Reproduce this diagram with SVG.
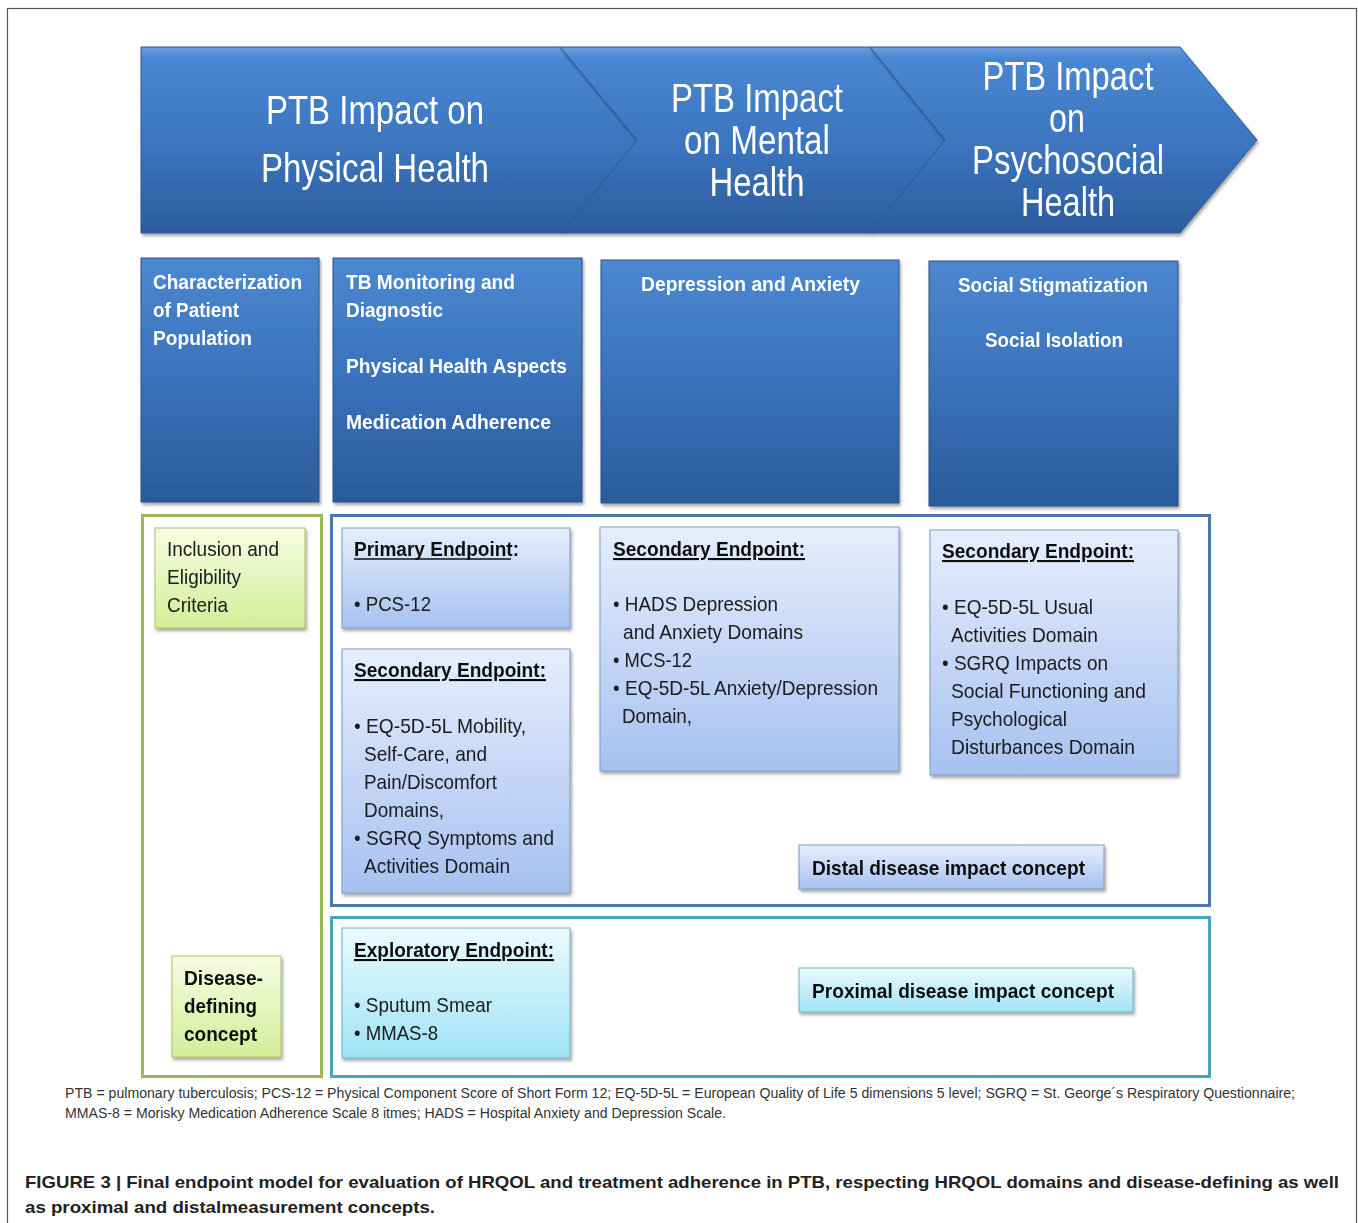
<svg xmlns="http://www.w3.org/2000/svg" width="1358" height="1223" viewBox="0 0 1358 1223">
<defs>
<linearGradient id="gChev" x1="0" y1="0" x2="0" y2="1">
<stop offset="0" stop-color="#6a9fe0"/>
<stop offset="0.06" stop-color="#4a87d2"/>
<stop offset="0.55" stop-color="#3b74bd"/>
<stop offset="1" stop-color="#2b5c9d"/>
</linearGradient>
<linearGradient id="gDark" x1="0" y1="0" x2="0" y2="1">
<stop offset="0" stop-color="#4c88d1"/>
<stop offset="0.5" stop-color="#3a72bb"/>
<stop offset="1" stop-color="#2a5b9b"/>
</linearGradient>
<linearGradient id="gBlue" x1="0" y1="0" x2="0" y2="1">
<stop offset="0" stop-color="#e6eefc"/>
<stop offset="1" stop-color="#a6c1f0"/>
</linearGradient>
<linearGradient id="gCyan" x1="0" y1="0" x2="0" y2="1">
<stop offset="0" stop-color="#ebfbfe"/>
<stop offset="1" stop-color="#9fe3f5"/>
</linearGradient>
<linearGradient id="gGreen" x1="0" y1="0" x2="0" y2="1">
<stop offset="0" stop-color="#f6fce3"/>
<stop offset="1" stop-color="#d4ed98"/>
</linearGradient>
<filter id="sh" x="-10%" y="-10%" width="125%" height="125%">
<feDropShadow dx="1.5" dy="2.5" stdDeviation="1.8" flood-color="#000" flood-opacity="0.35"/>
</filter>
</defs>
<style>
.chevT{font-family:"Liberation Sans",Arial,sans-serif;font-size:41px;fill:#fff;text-anchor:middle}
.hd{font-family:"Liberation Sans",Arial,sans-serif;font-size:21px;font-weight:bold;fill:#fff}
.tx{font-family:"Liberation Sans",Arial,sans-serif;font-size:21px;fill:#1a1a1a}
.bd{font-family:"Liberation Sans",Arial,sans-serif;font-size:21px;font-weight:bold;fill:#111}
.ul{text-decoration:underline}
.uline{stroke:#111;stroke-width:1.5}
.dark{fill:url(#gDark);stroke:#2b5282;stroke-width:1}
.blue{fill:url(#gBlue);stroke:#7a98c8;stroke-width:1}
.cyan{fill:url(#gCyan);stroke:#6ab3c7;stroke-width:1}
.green{fill:url(#gGreen);stroke:#a9c26e;stroke-width:1}
.fn{font-family:"Liberation Sans",Arial,sans-serif;font-size:14px;fill:#333}
.cap{font-family:"Liberation Sans",Arial,sans-serif;font-size:17px;font-weight:bold;fill:#222}
</style>
<rect x="0" y="0" width="1358" height="1223" fill="#fff"/>
<rect x="7.5" y="8.5" width="1349" height="1260" fill="none" stroke="#555" stroke-width="1.2"/>

<g id="chevron-physical" filter="url(#sh)">
<polygon points="141,47 560,47 637,140 562,233 141,233" fill="url(#gChev)" stroke="#2d5a92" stroke-width="1"/>
<text class="chevT" x="375" y="124" textLength="218" lengthAdjust="spacingAndGlyphs">PTB Impact on</text>
<text class="chevT" x="375" y="182" textLength="228" lengthAdjust="spacingAndGlyphs">Physical Health</text>
</g>
<g id="chevron-mental" filter="url(#sh)">
<polygon points="560,47 870,47 945,140 870,233 562,233 637,140" fill="url(#gChev)" stroke="#2d5a92" stroke-width="1"/>
<text class="chevT" x="757" y="112" textLength="172" lengthAdjust="spacingAndGlyphs">PTB Impact</text>
<text class="chevT" x="757" y="154" textLength="146" lengthAdjust="spacingAndGlyphs">on Mental</text>
<text class="chevT" x="757" y="196" textLength="95" lengthAdjust="spacingAndGlyphs">Health</text>
</g>
<g id="chevron-psychosocial" filter="url(#sh)">
<polygon points="870,47 1180,47 1257,140 1180,233 870,233 945,140" fill="url(#gChev)" stroke="#2d5a92" stroke-width="1"/>
<text class="chevT" x="1068" y="90" textLength="171" lengthAdjust="spacingAndGlyphs">PTB Impact</text>
<text class="chevT" x="1067" y="132" textLength="36" lengthAdjust="spacingAndGlyphs">on</text>
<text class="chevT" x="1068" y="174" textLength="192" lengthAdjust="spacingAndGlyphs">Psychosocial</text>
<text class="chevT" x="1068" y="216" textLength="94" lengthAdjust="spacingAndGlyphs">Health</text>
</g>

<g id="domain-characterization" filter="url(#sh)">
<rect class="dark" x="141" y="258" width="178" height="244"/>
<text class="hd" x="153" y="289" textLength="149" lengthAdjust="spacingAndGlyphs">Characterization</text>
<text class="hd" x="153" y="317" textLength="86" lengthAdjust="spacingAndGlyphs">of Patient</text>
<text class="hd" x="153" y="345" textLength="99" lengthAdjust="spacingAndGlyphs">Population</text>
</g>
<g id="domain-physical" filter="url(#sh)">
<rect class="dark" x="333" y="258" width="249" height="244"/>
<text class="hd" x="346" y="289" textLength="169" lengthAdjust="spacingAndGlyphs">TB Monitoring and</text>
<text class="hd" x="346" y="317" textLength="97" lengthAdjust="spacingAndGlyphs">Diagnostic</text>
<text class="hd" x="346" y="373" textLength="221" lengthAdjust="spacingAndGlyphs">Physical Health Aspects</text>
<text class="hd" x="346" y="429" textLength="205" lengthAdjust="spacingAndGlyphs">Medication Adherence</text>
</g>
<g id="domain-mental" filter="url(#sh)">
<rect class="dark" x="601" y="260" width="298" height="243"/>
<text class="hd" x="641" y="291" textLength="219" lengthAdjust="spacingAndGlyphs">Depression and Anxiety</text>
</g>
<g id="domain-social" filter="url(#sh)">
<rect class="dark" x="929" y="261" width="249" height="245"/>
<text class="hd" x="958" y="292" textLength="190" lengthAdjust="spacingAndGlyphs">Social Stigmatization</text>
<text class="hd" x="985" y="347" textLength="138" lengthAdjust="spacingAndGlyphs">Social Isolation</text>
</g>

<g id="frame-disease-defining">
<rect x="142.5" y="515.5" width="179" height="561" fill="none" stroke="#9cb95a" stroke-width="3"/>
</g>
<g id="frame-distal">
<rect x="331.5" y="515.5" width="878" height="390" fill="none" stroke="#4b78ad" stroke-width="3"/>
</g>
<g id="frame-proximal">
<rect x="331.5" y="917.5" width="878" height="159" fill="none" stroke="#4aa5bd" stroke-width="3"/>
</g>

<g id="inclusion" filter="url(#sh)">
<rect class="green" x="155" y="528" width="150" height="100"/>
<text class="tx" x="167" y="556" textLength="112" lengthAdjust="spacingAndGlyphs">Inclusion and</text>
<text class="tx" x="167" y="584" textLength="74" lengthAdjust="spacingAndGlyphs">Eligibility</text>
<text class="tx" x="167" y="612" textLength="61" lengthAdjust="spacingAndGlyphs">Criteria</text>
</g>
<g id="disease-defining" filter="url(#sh)">
<rect class="green" x="172" y="956" width="109" height="101"/>
<text class="bd" x="184" y="985" textLength="79" lengthAdjust="spacingAndGlyphs">Disease-</text>
<text class="bd" x="184" y="1013" textLength="73" lengthAdjust="spacingAndGlyphs">defining</text>
<text class="bd" x="184" y="1041" textLength="73" lengthAdjust="spacingAndGlyphs">concept</text>
</g>

<g id="primary-endpoint" filter="url(#sh)">
<rect class="blue" x="342" y="528" width="228" height="100"/>
<text class="bd" x="354" y="556" textLength="165" lengthAdjust="spacingAndGlyphs">Primary Endpoint:</text>
<line class="uline" x1="354" y1="559" x2="511" y2="559"/>
<text class="tx" x="354" y="611" textLength="77" lengthAdjust="spacingAndGlyphs">• PCS-12</text>
</g>
<g id="secondary-physical" filter="url(#sh)">
<rect class="blue" x="342" y="649" width="228" height="244"/>
<text class="bd ul" x="354" y="677" textLength="192" lengthAdjust="spacingAndGlyphs">Secondary Endpoint:</text>
<text class="tx" x="354" y="733" textLength="172" lengthAdjust="spacingAndGlyphs">• EQ-5D-5L Mobility,</text>
<text class="tx" x="364" y="761" textLength="123" lengthAdjust="spacingAndGlyphs">Self-Care, and</text>
<text class="tx" x="364" y="789" textLength="133" lengthAdjust="spacingAndGlyphs">Pain/Discomfort</text>
<text class="tx" x="364" y="817" textLength="80" lengthAdjust="spacingAndGlyphs">Domains,</text>
<text class="tx" x="354" y="845" textLength="200" lengthAdjust="spacingAndGlyphs">• SGRQ Symptoms and</text>
<text class="tx" x="364" y="873" textLength="146" lengthAdjust="spacingAndGlyphs">Activities Domain</text>
</g>
<g id="secondary-mental" filter="url(#sh)">
<rect class="blue" x="600" y="527" width="299" height="244"/>
<text class="bd ul" x="613" y="556" textLength="192" lengthAdjust="spacingAndGlyphs">Secondary Endpoint:</text>
<text class="tx" x="613" y="611" textLength="165" lengthAdjust="spacingAndGlyphs">• HADS Depression</text>
<text class="tx" x="623" y="639" textLength="180" lengthAdjust="spacingAndGlyphs">and Anxiety Domains</text>
<text class="tx" x="613" y="667" textLength="79" lengthAdjust="spacingAndGlyphs">• MCS-12</text>
<text class="tx" x="613" y="695" textLength="265" lengthAdjust="spacingAndGlyphs">• EQ-5D-5L Anxiety/Depression</text>
<text class="tx" x="622" y="723" textLength="70" lengthAdjust="spacingAndGlyphs">Domain,</text>
</g>
<g id="secondary-social" filter="url(#sh)">
<rect class="blue" x="930" y="530" width="248" height="245"/>
<text class="bd ul" x="942" y="558" textLength="192" lengthAdjust="spacingAndGlyphs">Secondary Endpoint:</text>
<text class="tx" x="942" y="614" textLength="151" lengthAdjust="spacingAndGlyphs">• EQ-5D-5L Usual</text>
<text class="tx" x="951" y="642" textLength="147" lengthAdjust="spacingAndGlyphs">Activities Domain</text>
<text class="tx" x="942" y="670" textLength="166" lengthAdjust="spacingAndGlyphs">• SGRQ Impacts on</text>
<text class="tx" x="951" y="698" textLength="195" lengthAdjust="spacingAndGlyphs">Social Functioning and</text>
<text class="tx" x="951" y="726" textLength="116" lengthAdjust="spacingAndGlyphs">Psychological</text>
<text class="tx" x="951" y="754" textLength="184" lengthAdjust="spacingAndGlyphs">Disturbances Domain</text>
</g>
<g id="distal-label" filter="url(#sh)">
<rect class="blue" x="799" y="845" width="305" height="44"/>
<text class="bd" x="812" y="875" textLength="273" lengthAdjust="spacingAndGlyphs">Distal disease impact concept</text>
</g>
<g id="exploratory-endpoint" filter="url(#sh)">
<rect class="cyan" x="342" y="928" width="228" height="130"/>
<text class="bd ul" x="354" y="957" textLength="200" lengthAdjust="spacingAndGlyphs">Exploratory Endpoint:</text>
<text class="tx" x="354" y="1012" textLength="138" lengthAdjust="spacingAndGlyphs">• Sputum Smear</text>
<text class="tx" x="354" y="1040" textLength="84" lengthAdjust="spacingAndGlyphs">• MMAS-8</text>
</g>
<g id="proximal-label" filter="url(#sh)">
<rect class="cyan" x="799" y="968" width="334" height="44"/>
<text class="bd" x="812" y="998" textLength="302" lengthAdjust="spacingAndGlyphs">Proximal disease impact concept</text>
</g>

<g id="footnote">
<text class="fn" x="65" y="1098" textLength="1230" lengthAdjust="spacingAndGlyphs">PTB = pulmonary tuberculosis; PCS-12 = Physical Component Score of Short Form 12; EQ-5D-5L = European Quality of Life 5 dimensions 5 level; SGRQ = St. George´s Respiratory Questionnaire;</text>
<text class="fn" x="65" y="1118" textLength="661" lengthAdjust="spacingAndGlyphs">MMAS-8 = Morisky Medication Adherence  Scale 8 itmes; HADS = Hospital Anxiety and Depression Scale.</text>
</g>
<g id="caption">
<text class="cap" x="25" y="1188" textLength="1314" lengthAdjust="spacingAndGlyphs">FIGURE 3 | Final endpoint model for evaluation of HRQOL and treatment adherence in PTB, respecting HRQOL domains and disease-defining as well</text>
<text class="cap" x="25" y="1213" textLength="410" lengthAdjust="spacingAndGlyphs">as proximal and distalmeasurement concepts.</text>
</g>
</svg>
